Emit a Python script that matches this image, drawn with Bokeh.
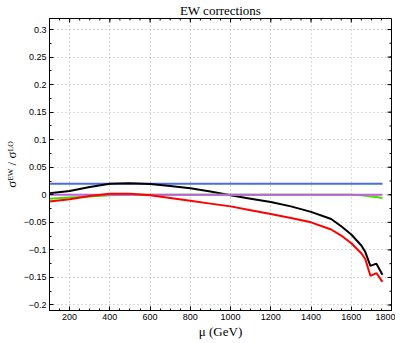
from bokeh.plotting import figure
from bokeh.models import FixedTicker, Range1d
from bokeh.embed import file_html
from bokeh.resources import INLINE

# ---- data ----
mu = [100, 200, 300, 400, 500, 600, 700, 800, 900, 1000, 1100, 1200, 1300,
      1400, 1500, 1550, 1600, 1650, 1670, 1695, 1725, 1755]
black = [0.003, 0.007, 0.014, 0.020, 0.021, 0.0195, 0.016, 0.012, 0.006, -0.001,
         -0.007, -0.013, -0.021, -0.031, -0.044, -0.057, -0.072, -0.092, -0.104,
         -0.129, -0.125, -0.145]
red = [-0.012, -0.008, -0.002, 0.002, 0.002, -0.001, -0.006, -0.011, -0.016, -0.021,
       -0.028, -0.035, -0.042, -0.050, -0.063, -0.074, -0.088, -0.106, -0.117,
       -0.147, -0.142, -0.158]
green = [-0.007, -0.005, -0.003, -0.001, 0.0, 0.0, 0.0, 0.0, 0.0, 0.0,
         0.0, 0.0, 0.0, 0.0, 0.0, 0.0, 0.0, -0.001, -0.0015, -0.003, -0.004, -0.006]
blue = [0.02] * len(mu)
purple = [0.0] * len(mu)

x_ticks = [200, 400, 600, 800, 1000, 1200, 1400, 1600, 1800]
x_minor = list(range(100, 1801, 50))
y_ticks = [0.3, 0.25, 0.2, 0.15, 0.1, 0.05, 0.0, -0.05, -0.1, -0.15, -0.2]
y_tick_labels = ["0.3", "0.25", "0.2", "0.15", "0.1", "0.05", "0",
                 "\u22120.05", "\u22120.1", "\u22120.15", "\u22120.2"]
y_minor = [round(-0.2 + 0.025 * i, 3) for i in range(22)]

X0, X1 = 100, 1800
Y0, Y1 = -0.21, 0.32

p = figure(width=395, height=341, output_backend="svg", toolbar_location=None,
           x_range=Range1d(X0, X1), y_range=Range1d(Y0, Y1),
           title="EW corrections",
           min_border_left=0, min_border_right=4, min_border_top=0, min_border_bottom=0)

p.title.align = "center"
p.title.text_font = "Liberation Serif"
p.title.text_font_size = "13px"
p.title.text_font_style = "normal"
p.title.text_color = "black"
p.title.standoff = 1

p.background_fill_color = "white"
p.outline_line_color = "black"
p.outline_line_width = 1

xt = FixedTicker(ticks=x_ticks, minor_ticks=x_minor)
yt = FixedTicker(ticks=y_ticks, minor_ticks=y_minor)
p.xaxis.ticker = xt
p.yaxis.ticker = yt

for ax in p.xaxis + p.yaxis:
    ax.axis_line_color = "black"
    ax.major_tick_in = 4
    ax.major_tick_out = 0
    ax.minor_tick_in = 2
    ax.minor_tick_out = 0
    ax.major_tick_line_color = "black"
    ax.minor_tick_line_color = "black"
    ax.major_label_text_font = "Liberation Sans"
    ax.major_label_text_font_size = "9px"
    ax.major_label_text_color = "black"
    ax.major_label_standoff = 3
    ax.axis_label_text_color = "black"
p.yaxis.major_label_overrides = {t: l for t, l in zip(y_ticks, y_tick_labels)}

p.xaxis.axis_label = "\u03bc (GeV)"
p.xaxis.axis_label_text_font = "Liberation Serif"
p.xaxis.axis_label_text_font_style = "normal"
p.xaxis.axis_label_text_font_size = "13px"
p.xaxis.axis_label_standoff = 1

p.yaxis.axis_label = "\u03c3\u1d31\u1d42 / \u03c3\u1d38\u1d3c"
p.yaxis.axis_label_text_font = "Liberation Serif"
p.yaxis.axis_label_text_font_style = "normal"
p.yaxis.axis_label_text_font_size = "13px"
p.yaxis.axis_label_standoff = 2

# ticks on the top and right frame edges (drawn inward, clipped by the frame)
p.scatter(x_ticks, [Y1] * len(x_ticks), marker="dash", angle=1.5708, size=8,
          line_color="black", line_width=1)
p.scatter(x_minor, [Y1] * len(x_minor), marker="dash", angle=1.5708, size=4,
          line_color="black", line_width=1)
p.scatter([X1] * len(y_ticks), y_ticks, marker="dash", size=8,
          line_color="black", line_width=1)
p.scatter([X1] * len(y_minor), y_minor, marker="dash", size=4,
          line_color="black", line_width=1)

for g in (p.xgrid, p.ygrid):
    g.grid_line_color = "#b0b0b0"
    g.grid_line_dash = "1 3"
    g.grid_line_width = 1
p.xgrid.ticker = xt
p.ygrid.ticker = yt

lw = 2
p.line(mu, blue, line_color="#4a6ce8", line_width=lw)
p.line(mu, black, line_color="black", line_width=lw)
p.line(mu, green, line_color="#44dd00", line_width=lw)
p.line(mu, purple, line_color="#c060e0", line_width=lw)
p.line(mu, red, line_color="#ff0000", line_width=lw)

open("out.html", "w").write(file_html(p, INLINE))
